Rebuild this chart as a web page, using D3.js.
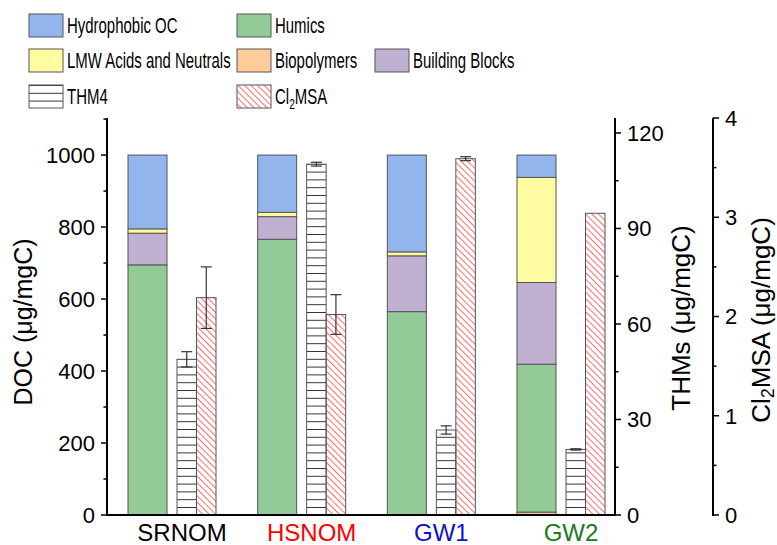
<!DOCTYPE html>
<html>
<head>
<meta charset="utf-8">
<script src="https://cdn.jsdelivr.net/npm/d3@7"></script>
<style>
  body { margin: 0; background: #fff; }
  svg, text { font-family: "Liberation Sans", Arial, sans-serif; fill: #000; }
</style>
</head>
<body>
<div id="chart"></div>
<script>
// sample names + label colours
var cats = ['SRNOM', 'HSNOM', 'GW1', 'GW2'];
var catColors = ['#000000', '#ff0000', '#1010cc', '#1a7a1a'];

// DOC fractions (ug/mgC), stacked bottom -> top
var biopolymers = [0, 0, 0, 8];
var humics = [695, 766, 565, 411];
var buildingBlocks = [88, 63, 155, 227];
var lmwAcids = [12, 12, 11, 292];
var hydrophobicOC = [205, 159, 269, 62];

// THM4 (ug/mgC) and Cl2MSA (ug/mgC) with errors
var thm4 = [48.9, 110.2, 26.7, 20.6];
var thm4Err = [2.4, 0.6, 1.3, 0.2];
var cl2msa = [2.19, 2.02, 3.59, 3.04];
var cl2msaErr = [0.31, 0.2, 0.02, 0];

var docTicks = [0, 200, 400, 600, 800, 1000];
var thmTicks = [0, 30, 60, 90, 120];
var clTicks = [0, 1, 2, 3, 4];

var width = 777, height = 545;
var svg = d3.select('#chart').append('svg')
  .attr('width', width).attr('height', height);

var defs = svg.append('defs');
defs.append('pattern').attr('id', 'hatchH')
  .attr('patternUnits', 'userSpaceOnUse').attr('width', 10).attr('height', 7.8)
  .append('line').attr('x1', 0).attr('x2', 10).attr('y1', 0.5).attr('y2', 0.5)
  .attr('stroke', '#333').attr('stroke-width', 1);
defs.append('pattern').attr('id', 'hatchD')
  .attr('patternUnits', 'userSpaceOnUse').attr('width', 4.6).attr('height', 10)
  .attr('patternTransform', 'rotate(-45)')
  .append('line').attr('x1', 0.5).attr('x2', 0.5).attr('y1', 0).attr('y2', 10)
  .attr('stroke', '#ff6b6b').attr('stroke-width', 1);

var yBottom = 515, yTop = 118;
var xLeft = 107, xRight = 615, xRight2 = 713;

var x = d3.scalePoint().domain(cats).range([182, 571]);
var y = d3.scaleLinear().domain([0, 1103]).range([yBottom, yTop]);
var yThm = d3.scaleLinear().domain([0, 124.7]).range([yBottom, yTop]);
var yCl = d3.scaleLinear().domain([0, 4]).range([yBottom, yTop]);

var series = [
  {name: 'Biopolymers', vals: biopolymers, color: '#ffcc99'},
  {name: 'Humics', vals: humics, color: '#93cb98'},
  {name: 'Building Blocks', vals: buildingBlocks, color: '#c0b0d2'},
  {name: 'LMW Acids and Neutrals', vals: lmwAcids, color: '#fffba0'},
  {name: 'Hydrophobic OC', vals: hydrophobicOC, color: '#93b5ee'}
];

// stacked DOC bars
var stackData = cats.map(function(c, i) {
  var o = {cat: c};
  series.forEach(function(s) { o[s.name] = s.vals[i]; });
  return o;
});
var stacked = d3.stack().keys(series.map(function(s) { return s.name; }))(stackData);

stacked.forEach(function(layer, li) {
  svg.append('g').selectAll('rect').data(layer).enter().append('rect')
    .attr('x', function(d) { return x(d.data.cat) - 54; })
    .attr('width', 39)
    .attr('y', function(d) { return y(d[1]); })
    .attr('height', function(d) { return y(d[0]) - y(d[1]); })
    .attr('fill', series[li].color)
    .attr('stroke', '#555').attr('stroke-width', 1);
});

// THM4 bars
svg.append('g').selectAll('rect').data(cats).enter().append('rect')
  .attr('x', function(c) { return x(c) - 5; })
  .attr('width', 19.5)
  .attr('y', function(c, i) { return yThm(thm4[i]); })
  .attr('height', function(c, i) { return yBottom - yThm(thm4[i]); })
  .attr('fill', 'url(#hatchH)')
  .attr('stroke', '#555').attr('stroke-width', 1);

// Cl2MSA bars
svg.append('g').selectAll('rect').data(cats).enter().append('rect')
  .attr('x', function(c) { return x(c) + 14.5; })
  .attr('width', 19.5)
  .attr('y', function(c, i) { return yCl(cl2msa[i]); })
  .attr('height', function(c, i) { return yBottom - yCl(cl2msa[i]); })
  .attr('fill', 'url(#hatchD)')
  .attr('stroke', '#555').attr('stroke-width', 1);

function errBars(vals, errs, scale, dx) {
  var g = svg.append('g').attr('stroke', '#333').attr('stroke-width', 1.2);
  cats.forEach(function(c, i) {
    if (!errs[i]) return;
    var cx = x(c) + dx;
    var y1 = scale(vals[i] + errs[i]), y2 = scale(vals[i] - errs[i]);
    g.append('line').attr('x1', cx).attr('x2', cx).attr('y1', y1).attr('y2', y2);
    g.append('line').attr('x1', cx - 5.5).attr('x2', cx + 5.5).attr('y1', y1).attr('y2', y1);
    g.append('line').attr('x1', cx - 5.5).attr('x2', cx + 5.5).attr('y1', y2).attr('y2', y2);
  });
}
errBars(thm4, thm4Err, yThm, 4.75);
errBars(cl2msa, cl2msaErr, yCl, 24.25);

// axes
function vAxis(scale, xPos, ticks, minorStep, dir) {
  var g = svg.append('g').attr('stroke', '#000');
  g.append('line').attr('x1', xPos).attr('x2', xPos).attr('y1', yTop).attr('y2', yBottom + 1)
    .attr('stroke-width', 2);
  var maxV = scale.domain()[1];
  for (var v = 0; v <= maxV + 1e-9; v += minorStep) {
    var major = ticks.indexOf(Math.round(v * 1000) / 1000) >= 0;
    var len = major ? 6 : 3.5;
    g.append('line').attr('x1', xPos).attr('x2', xPos + dir * len)
      .attr('y1', scale(v)).attr('y2', scale(v)).attr('stroke-width', 1.5);
  }
  svg.append('g').selectAll('text').data(ticks).enter().append('text')
    .attr('x', xPos + dir * 12)
    .attr('y', function(d) { return scale(d); })
    .attr('dy', '0.36em')
    .attr('text-anchor', dir < 0 ? 'end' : 'start')
    .style('font-size', '22px')
    .text(function(d) { return d; });
}
vAxis(y, xLeft, docTicks, 100, -1);
vAxis(yThm, xRight, thmTicks, 15, 1);
vAxis(yCl, xRight2, clTicks, 0.5, 1);

// bottom axis
svg.append('line').attr('x1', xLeft).attr('x2', xRight).attr('y1', yBottom).attr('y2', yBottom)
  .attr('stroke', '#000').attr('stroke-width', 2);
svg.append('g').selectAll('text').data(cats).enter().append('text')
  .attr('x', function(c) { return x(c); })
  .attr('y', 541)
  .attr('text-anchor', 'middle')
  .style('font-size', '24px')
  .style('fill', function(c, i) { return catColors[i]; })
  .text(function(c) { return c; });

// axis titles
svg.append('text')
  .attr('transform', 'translate(32,322) rotate(-90)')
  .attr('text-anchor', 'middle').style('font-size', '25px')
  .text('DOC (\u03bcg/mgC)');
svg.append('text')
  .attr('transform', 'translate(690,318) rotate(-90)')
  .attr('text-anchor', 'middle').style('font-size', '26px')
  .text('THMs (\u03bcg/mgC)');
var clT = svg.append('text')
  .attr('transform', 'translate(770,320) rotate(-90)')
  .attr('text-anchor', 'middle').style('font-size', '26px');
clT.append('tspan').text('Cl');
clT.append('tspan').attr('dy', 4).style('font-size', '18px').text('2');
clT.append('tspan').attr('dy', -4).text('MSA (\u03bcg/mgC)');

// legend
var legendItems = [
  {label: 'Hydrophobic OC', fill: '#93b5ee', col: 0, row: 0},
  {label: 'Humics', fill: '#93cb98', col: 1, row: 0},
  {label: 'LMW Acids and Neutrals', fill: '#fffba0', col: 0, row: 1},
  {label: 'Biopolymers', fill: '#ffcc99', col: 1, row: 1},
  {label: 'Building Blocks', fill: '#c0b0d2', col: 2, row: 1},
  {label: 'THM4', fill: 'url(#hatchH)', col: 0, row: 2},
  {label: 'Cl2MSA', fill: 'url(#hatchD)', col: 1, row: 2}
];
var colX = [29, 237, 375];
var rowY = [14, 49, 85];
legendItems.forEach(function(it) {
  var g = svg.append('g')
    .attr('transform', 'translate(' + colX[it.col] + ',' + rowY[it.row] + ')');
  g.append('rect').attr('width', 34).attr('height', 23)
    .attr('fill', it.fill).attr('stroke', '#555').attr('stroke-width', 1);
  var t = g.append('text')
    .attr('transform', 'translate(38,19) scale(0.68,1)')
    .style('font-size', '22px');
  if (it.label === 'Cl2MSA') {
    t.append('tspan').text('Cl');
    t.append('tspan').attr('dy', 5).style('font-size', '15px').text('2');
    t.append('tspan').attr('dy', -5).text('MSA');
  } else {
    t.text(it.label);
  }
});
</script>
</body>
</html>
